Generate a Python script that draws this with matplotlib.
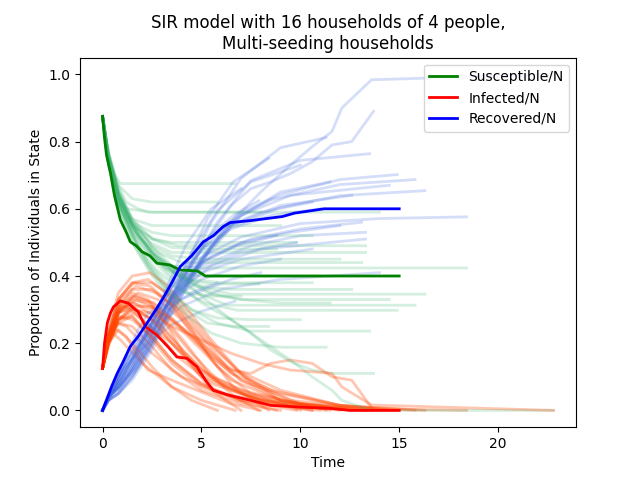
import matplotlib
matplotlib.use("Agg")
import matplotlib.pyplot as plt

# Mean curves
t_S = [0, 0.1, 0.2, 0.4, 0.6, 0.9, 1.2, 1.4, 1.7, 2.0, 2.4, 2.75, 3.4, 3.9, 4.8, 5.2, 15]
S_mean = [.875, .81, .76, .707, .64, .567, .53, .502, .49, .472, .46, .438, .433, .418, .415, .40, .40]
t_I = [0, 0.1, 0.24, 0.4, 0.55, 0.9, 1.3, 1.8, 2.17, 2.75, 3.3, 3.76, 4.27, 4.77, 5.2, 5.6, 6.4, 7.5, 8.5, 10, 11.5, 12.5, 15]
I_mean = [.125, .2, .26, .29, .308, .326, .319, .293, .249, .224, .19, .159, .155, .13, .09, .06, .045, .03, .015, .01, .006, 0.0, 0.0]
t_R = [0, 0.2, 0.45, 0.74, 1.0, 1.4, 1.8, 2.25, 2.7, 3.1, 3.5, 3.93, 4.5, 5.1, 5.6, 6.1, 6.45, 7.5, 9.1, 9.7, 11.2, 15]
R_mean = [0, .03, .07, .11, .14, .19, .22, .26, .3, .338, .38, .428, .46, .502, .52, .547, .559, .565, .577, .587, .6, .6]

# Individual simulations: (times, S, I); R = 1 - S - I
sims = [
    ([0, 0.2, 0.5, 0.9, 2, 3.5, 5, 6.7],
     [.875, .78, .71, .675, .675, .675, .675, .675],
     [.125, .19, .23, .21, .14, .07, .03, 0]),
    ([0, 0.3, 0.7, 1.2, 2.5, 4, 6, 9, 14],
     [.875, .76, .66, .60, .59, .59, .59, .59, .59],
     [.125, .21, .26, .25, .17, .1, .05, .02, 0]),
    ([0, 0.3, 0.8, 1.5, 2.5, 3.5, 5, 7, 9.8],
     [.875, .74, .62, .55, .51, .50, .50, .50, .50],
     [.125, .22, .28, .27, .22, .15, .08, .03, 0]),
    ([0, 0.3, 0.8, 1.6, 2.6, 3.8, 5.5, 8, 13.3],
     [.875, .75, .63, .55, .51, .49, .49, .49, .49],
     [.125, .2, .27, .29, .24, .16, .08, .03, 0]),
    ([0, 0.25, 0.7, 1.4, 2.4, 3.5, 5, 7.5, 10, 13.3],
     [.875, .76, .64, .56, .50, .47, .47, .47, .47, .47],
     [.125, .2, .29, .30, .25, .2, .1, .04, .01, 0]),
    ([0, 0.3, 0.9, 1.7, 2.8, 4, 5.5, 7.5, 10, 13.1],
     [.875, .73, .6, .52, .47, .44, .44, .44, .44, .44],
     [.125, .23, .31, .30, .26, .18, .1, .05, .02, 0]),
    ([0, 0.3, 0.8, 1.5, 2.5, 3.5, 5, 7, 10, 14, 18.4],
     [.875, .74, .63, .54, .47, .43, .424, .424, .424, .424, .424],
     [.125, .22, .29, .31, .27, .2, .12, .06, .02, .005, 0]),
    ([0, 0.3, 0.8, 1.5, 2.3, 3.2, 4.2, 5.5, 6.7, 7.9],
     [.875, .75, .64, .55, .48, .42, .39, .376, .376, .376],
     [.125, .21, .29, .33, .32, .27, .2, .1, .04, 0]),
    ([0, 0.3, 0.9, 1.7, 2.7, 3.8, 5, 6.5, 9, 12.6],
     [.875, .76, .63, .53, .46, .41, .37, .36, .36, .36],
     [.125, .2, .3, .33, .3, .25, .18, .09, .03, 0]),
    ([0, 0.3, 0.8, 1.6, 2.6, 3.6, 4.8, 6.5, 9, 12, 16.3],
     [.875, .75, .64, .54, .46, .41, .37, .346, .346, .346, .346],
     [.125, .21, .29, .34, .32, .27, .2, .11, .05, .015, 0]),
    ([0, 0.3, 0.9, 1.8, 2.8, 4, 5.5, 7, 9.5, 14.5],
     [.875, .76, .62, .52, .45, .39, .345, .33, .33, .33],
     [.125, .2, .31, .35, .33, .27, .17, .09, .03, 0]),
    ([0, 0.3, 0.8, 1.5, 2.5, 3.5, 4.8, 6.3, 8.5, 12, 15.8],
     [.875, .75, .64, .55, .46, .4, .35, .313, .313, .313, .313],
     [.125, .22, .31, .36, .36, .31, .23, .13, .06, .015, 0]),
    ([0, 0.3, 0.9, 1.7, 2.7, 3.9, 5.2, 6.8, 9, 12, 14.9],
     [.875, .74, .6, .5, .42, .36, .32, .298, .298, .298, .298],
     [.125, .22, .33, .37, .35, .3, .21, .12, .06, .015, 0]),
    ([0, 0.3, 0.8, 1.5, 2.3, 3.2, 4.2, 5.3, 6.6, 8.4],
     [.875, .74, .62, .52, .43, .36, .3, .26, .25, .25],
     [.125, .23, .33, .38, .39, .35, .27, .17, .07, 0]),
    ([0, 0.3, 0.8, 1.6, 2.5, 3.5, 4.5, 5.8, 7.5, 10, 13.5],
     [.875, .74, .62, .51, .42, .35, .3, .26, .236, .236, .236],
     [.125, .23, .33, .38, .38, .34, .27, .18, .08, .02, 0]),
    ([0, 0.3, 0.8, 1.5, 2.4, 3.3, 4.3, 5.5, 7, 9, 11.3],
     [.875, .73, .6, .5, .41, .34, .28, .23, .2, .188, .188],
     [.125, .24, .35, .4, .41, .37, .3, .21, .11, .03, 0]),
    ([0, 0.3, 0.8, 1.5, 2.5, 3.5, 5, 6.5, 7.5, 8.5, 9.5, 10.6, 11.6, 12.6, 13.7],
     [.875, .75, .63, .53, .45, .39, .32, .27, .23, .18, .145, .12, .11, .11, .11],
     [.125, .21, .3, .34, .32, .27, .2, .12, .11, .14, .15, .14, .1, .09, 0.0]),
    ([0, 0.3, 0.8, 1.5, 2.5, 3.5, 5, 6.5, 8, 9.5, 10.6, 11.6, 12.1, 13.6, 22.8],
     [.875, .76, .65, .56, .48, .42, .34, .27, .21, .15, .1, .06, .03, 0.0, 0.0],
     [.125, .2, .27, .3, .29, .25, .21, .17, .14, .12, .115, .11, .07, .016, 0.0]),
    ([0, 0.3, 0.8, 1.5, 2.5, 3.5, 5, 7, 9],
     [.875, .75, .64, .57, .55, .55, .55, .55, .55],
     [.125, .21, .26, .25, .19, .12, .06, .02, 0]),
    ([0, 0.3, 0.8, 1.6, 2.6, 3.6, 5, 6.5, 8.5, 11],
     [.875, .74, .62, .52, .45, .41, .40, .40, .40, .40],
     [.125, .22, .3, .32, .28, .21, .12, .06, .02, 0]),
    ([0, 0.3, 0.8, 1.5, 2.5, 3.5, 5, 7, 10.6],
     [.875, .75, .63, .56, .53, .52, .52, .52, .52],
     [.125, .21, .27, .28, .21, .14, .07, .03, 0]),
    ([0, 0.3, 0.8, 1.5, 2.3, 3.2, 4.2, 5.5, 7],
     [.875, .74, .62, .52, .44, .38, .35, .34, .34],
     [.125, .22, .31, .35, .33, .26, .16, .06, 0]),
    ([0, 0.3, 0.8, 1.5, 2.5, 3.5, 4.5, 5.8],
     [.875, .76, .67, .63, .62, .62, .62, .62],
     [.125, .2, .24, .2, .13, .07, .03, 0]),
    ([0, 0.3, 0.7, 1.2, 1.8, 2.3, 3.5, 5.2, 6.5, 8],
     [.875, .77, .68, .62, .6, .59, .59, .59, .59, .59],
     [.125, .2, .24, .22, .16, .12, .09, .05, .02, 0]),
    ([0, 0.3, 0.8, 1.5, 2.4, 3.4, 4.5, 5.8, 7.5, 10],
     [.875, .74, .61, .5, .42, .35, .3, .275, .27, .27],
     [.125, .23, .33, .38, .37, .32, .23, .13, .05, 0]),
    ([0, 0.3, 0.8, 1.5, 2.5, 3.5, 5, 7, 9.5, 12],
     [.875, .76, .65, .56, .49, .46, .45, .45, .45, .45],
     [.125, .2, .27, .3, .27, .2, .11, .05, .02, 0]),
    ([0, 0.3, 0.8, 1.5, 2.5, 3.5, 4.5, 6, 8, 10.6],
     [.875, .75, .64, .55, .47, .42, .39, .38, .38, .38],
     [.125, .21, .29, .32, .3, .24, .17, .08, .03, 0]),
    ([0, 0.3, 0.8, 1.5, 2.5, 3.5, 5, 6.8, 8.8],
     [.875, .76, .65, .57, .51, .485, .48, .48, .48],
     [.125, .2, .26, .28, .22, .15, .08, .03, 0]),
    ([0, 0.3, 0.8, 1.5, 2.5, 3.5, 4.5, 5.5, 7, 9, 11.5],
     [.875, .77, .66, .57, .49, .43, .38, .35, .33, .32, .32],
     [.125, .19, .27, .31, .31, .27, .22, .16, .09, .03, 0]),
]

fig, ax = plt.subplots(figsize=(6.4, 4.8), dpi=100)

for t, S, I in sims:
    R = [1 - s - i for s, i in zip(S, I)]
    ax.plot(t, S, color='mediumseagreen', alpha=0.22, lw=2)
    ax.plot(t, I, color='orangered', alpha=0.3, lw=2)
    ax.plot(t, R, color='royalblue', alpha=0.22, lw=2)

ax.plot(t_S, S_mean, color='green', lw=2, label='Susceptible/N')
ax.plot(t_I, I_mean, color='red', lw=2, label='Infected/N')
ax.plot(t_R, R_mean, color='blue', lw=2, label='Recovered/N')

ax.set_title('SIR model with 16 households of 4 people,\nMulti-seeding households')
ax.set_xlabel('Time')
ax.set_ylabel('Proportion of Individuals in State')
ax.legend(loc='upper right')

fig.savefig('out.png', dpi=100)
